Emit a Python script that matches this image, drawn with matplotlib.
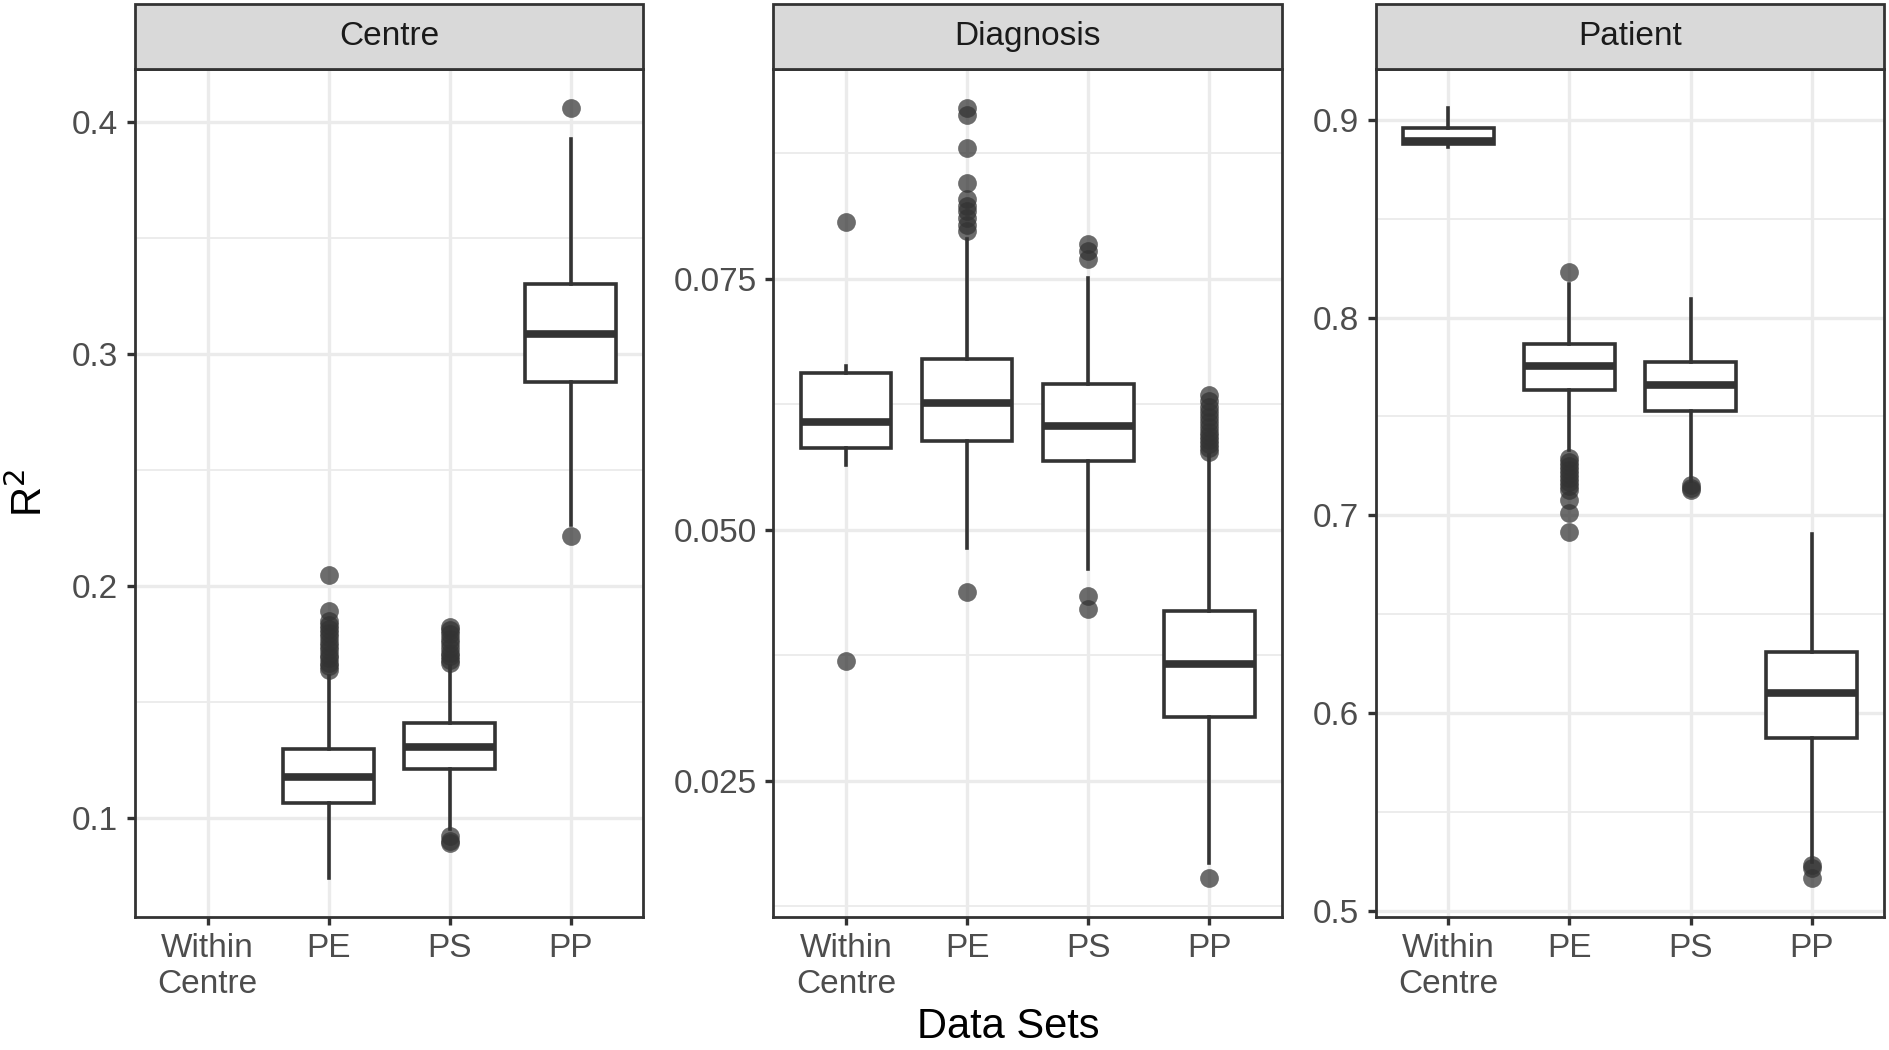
import numpy as np
import matplotlib
matplotlib.use("Agg")
import matplotlib.pyplot as plt
from matplotlib.patches import Rectangle
from matplotlib.ticker import MultipleLocator, FormatStrFormatter

plt.rcParams["font.family"] = ["Liberation Sans", "DejaVu Sans"]

# ---------------------------------------------------------
# data
# ---------------------------------------------------------
categories = ["Within\nCentre", "PE", "PS", "PP"]
panels = ["Centre", "Diagnosis", "Patient"]

# Centre (no Within Centre box)
centre_whislo = [None, 0.0743, 0.0955, 0.2265]
centre_q1 = [None, 0.1068, 0.1215, 0.2880]
centre_med = [None, 0.1179, 0.1306, 0.3089]
centre_q3 = [None, 0.1301, 0.1412, 0.3305]
centre_whishi = [None, 0.1613, 0.1658, 0.3928]
centre_fliers = [
    [],
    [0.2047, 0.1893, 0.1850, 0.1835, 0.1815, 0.1800, 0.1780, 0.1760,
     0.1745, 0.1725, 0.1705, 0.1690, 0.1670, 0.1655, 0.1640],
    [0.1825, 0.1810, 0.1795, 0.1775, 0.1755, 0.1735, 0.1715, 0.1700,
     0.1685, 0.1670, 0.0925, 0.0905, 0.0895],
    [0.4062, 0.2218],
]

# Diagnosis
diag_whislo = [0.0564, 0.0482, 0.0461, 0.0168]
diag_q1 = [0.0581, 0.0588, 0.0568, 0.0313]
diag_med = [0.0607, 0.0626, 0.0603, 0.0366]
diag_q3 = [0.0656, 0.0670, 0.0645, 0.0419]
diag_whishi = [0.0663, 0.0789, 0.0751, 0.0574]
diag_fliers = [
    [0.0806, 0.0369],
    [0.0920, 0.0913, 0.0880, 0.0845, 0.0829, 0.0822, 0.0817, 0.0810,
     0.0803, 0.0797, 0.0438],
    [0.0784, 0.0777, 0.0769, 0.0434, 0.0421],
    [0.0634, 0.0628, 0.0622, 0.0617, 0.0612, 0.0607, 0.0602, 0.0597,
     0.0593, 0.0589, 0.0585, 0.0581, 0.0577, 0.0153],
]

# Patient
pat_whislo = [0.8863, 0.7332, 0.7172, 0.5249]
pat_q1 = [0.8877, 0.7634, 0.7526, 0.5876]
pat_med = [0.8895, 0.7757, 0.7658, 0.6100]
pat_q3 = [0.8961, 0.7867, 0.7774, 0.6309]
pat_whishi = [0.9061, 0.8170, 0.8096, 0.6908]
pat_fliers = [
    [],
    [0.8229, 0.7290, 0.7270, 0.7250, 0.7230, 0.7210, 0.7190, 0.7170,
     0.7150, 0.7130, 0.7079, 0.7010, 0.6916],
    [0.7155, 0.7140, 0.7128],
    [0.5231, 0.5215, 0.5165],
]

panel_data = [
    (centre_whislo, centre_q1, centre_med, centre_q3, centre_whishi, centre_fliers),
    (diag_whislo, diag_q1, diag_med, diag_q3, diag_whishi, diag_fliers),
    (pat_whislo, pat_q1, pat_med, pat_q3, pat_whishi, pat_fliers),
]
major_steps = [0.1, 0.025, 0.1]
tick_formats = ["%.1f", "%.3f", "%.1f"]

# ---------------------------------------------------------
# figure
# ---------------------------------------------------------
dark = "#333333"
grid_col = "#EBEBEB"

fig = plt.figure(figsize=(18.89, 10.5), dpi=100)
lefts = [0.0714, 0.4094, 0.7283]
width = 0.2692
bottom, height = 0.127, 0.807
strip_h = 0.0776

for i, (name, data) in enumerate(zip(panels, panel_data)):
    ax = fig.add_axes([lefts[i], bottom, width, height])
    whislo, q1, med, q3, whishi, fliers = data

    stats, pos = [], []
    for j in range(len(categories)):
        if med[j] is None:
            continue
        stats.append(dict(whislo=whislo[j], q1=q1[j], med=med[j], q3=q3[j],
                          whishi=whishi[j], fliers=fliers[j]))
        pos.append(j + 1)

    ax.bxp(stats, positions=pos, widths=0.75, showcaps=False, patch_artist=True,
           boxprops=dict(facecolor="white", edgecolor=dark, linewidth=2.6),
           medianprops=dict(color=dark, linewidth=5.5, solid_capstyle="butt"),
           whiskerprops=dict(color=dark, linewidth=2.6),
           flierprops=dict(marker="o", markersize=13.5, markerfacecolor=dark,
                           markeredgecolor="none", alpha=0.72),
           zorder=3)

    # y range like ggplot: data range + 5% each side
    allv = [v for v in whislo + whishi if v is not None]
    for f in fliers:
        allv += f
    lo, hi = min(allv), max(allv)
    pad = 0.05 * (hi - lo)
    ax.set_ylim(lo - pad, hi + pad)
    ax.set_xlim(0.4, 4.6)

    ax.yaxis.set_major_locator(MultipleLocator(major_steps[i]))
    ax.yaxis.set_minor_locator(MultipleLocator(major_steps[i] / 2))
    ax.yaxis.set_major_formatter(FormatStrFormatter(tick_formats[i]))
    ax.set_xticks(range(1, len(categories) + 1))
    ax.set_xticklabels(categories, linespacing=1.2)

    ax.grid(True, which="major", color=grid_col, linewidth=2.4, zorder=0)
    ax.grid(True, which="minor", axis="y", color=grid_col, linewidth=1.3, zorder=0)
    ax.set_axisbelow(True)

    ax.tick_params(axis="both", which="major", length=6, width=2.4, color=dark,
                   labelsize=24, labelcolor="#4D4D4D", pad=6)
    ax.tick_params(axis="y", which="minor", length=0)
    for sp in ax.spines.values():
        sp.set_color(dark)
        sp.set_linewidth(2.0)

    # facet strip
    ax.add_patch(Rectangle((0, 1), 1, strip_h, transform=ax.transAxes,
                           facecolor="#D9D9D9", edgecolor=dark, linewidth=2.0,
                           clip_on=False, zorder=5))
    ax.text(0.5, 1 + strip_h / 2, name, transform=ax.transAxes, ha="center",
            va="center", fontsize=24, color="#1A1A1A", zorder=6)

fig.text(0.016, bottom + height / 2, "R$^2$", rotation=90, ha="center",
         va="center", fontsize=30)
fig.text(0.534, 0.003, "Data Sets", ha="center", va="bottom", fontsize=30)

fig.savefig("out.png", dpi=100)
